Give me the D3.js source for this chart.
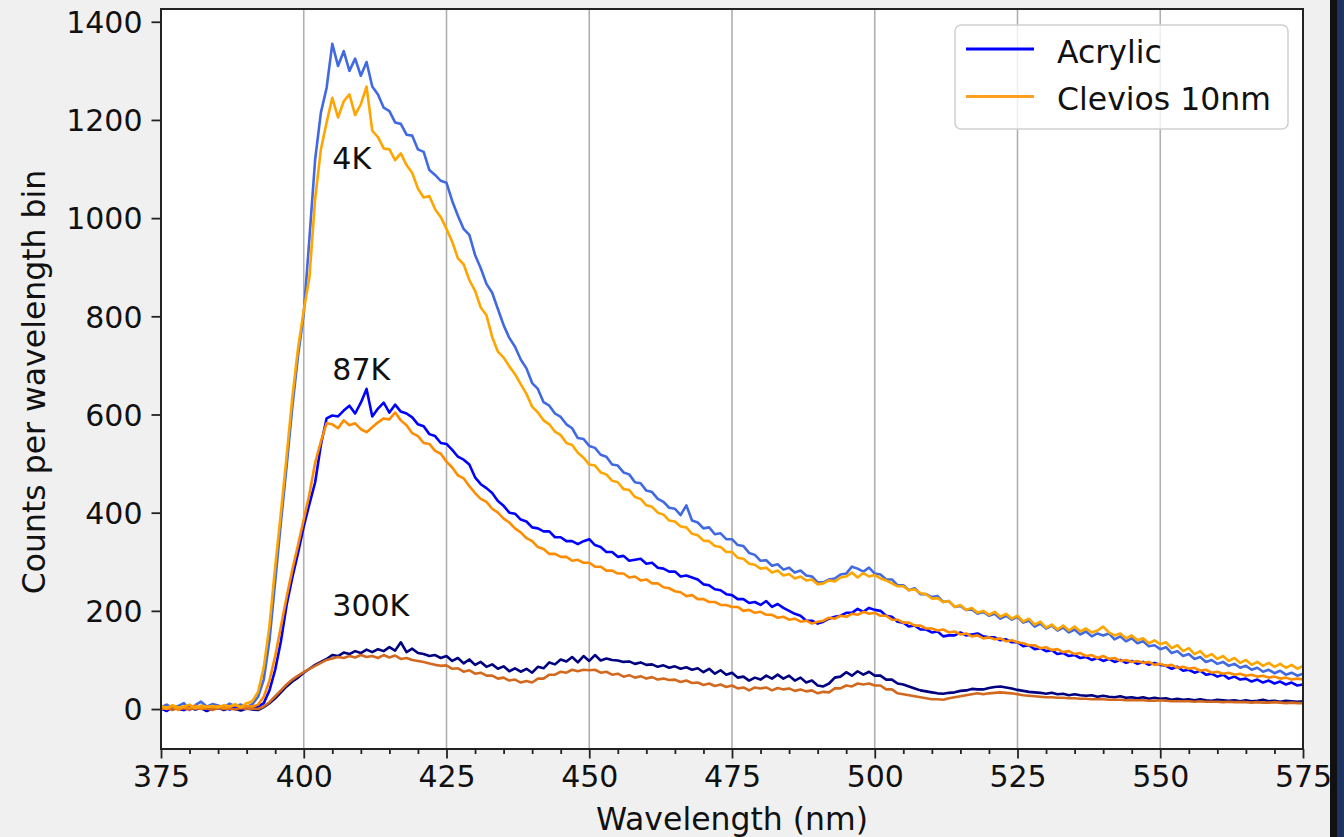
<!DOCTYPE html>
<html>
<head>
<meta charset="utf-8">
<script src="https://cdn.jsdelivr.net/npm/d3@7"></script>
<style>
  html, body { margin: 0; padding: 0; background: #f0f0f0; }
  svg { display: block; font-family: "DejaVu Sans", sans-serif; }
</style>
</head>
<body>
<svg id="chart" width="1344" height="837"></svg>
<script>
// Wavelength bins (nm), one count per bin
const wavelengths = d3.range(375, 576, 1);

// Acrylic spectra
const acrylic4K = [
  4, 9, 2, 6, 12, -2, 8, 15, 5, 10,
  7, 3, 11, 6, 9, 4, 10, 25, 60, 140,
  260, 380, 495, 615, 720, 805, 960, 1120, 1215, 1265,
  1355, 1310, 1340, 1300, 1325, 1290, 1318, 1268, 1252, 1225,
  1218, 1195, 1192, 1170, 1168, 1140, 1135, 1098, 1088, 1076,
  1072, 1035, 1005, 978, 966, 925, 898, 866, 848, 815,
  782, 756, 738, 712, 694, 664, 652, 625, 618, 602,
  595, 580, 572, 552, 550, 536, 532, 518, 514, 498,
  496, 482, 478, 462, 460, 445, 442, 428, 422, 410,
  408, 395, 415, 384, 380, 368, 370, 356, 358, 346,
  346, 334, 332, 318, 314, 302, 303, 292, 295, 284,
  288, 278, 282, 272, 270, 258, 258, 264, 266, 274,
  276, 290, 286, 280, 288, 276, 274, 264, 264, 252,
  252, 242, 246, 234, 234, 228, 230, 218, 220, 208,
  210, 202, 203, 194, 198, 190, 194, 184, 190, 182,
  188, 176, 180, 168, 174, 164, 170, 160, 166, 156,
  162, 152, 158, 148, 154, 150, 154, 142, 148, 138,
  144, 134, 138, 128, 130, 122, 126, 114, 118, 108,
  112, 102, 106, 96, 100, 92, 96, 88, 92, 84,
  88, 80, 84, 76, 80, 73, 78, 70, 74, 68,
  72
];
const acrylic87K = [
  2, -4, 5, 1, -2, 6, 0, 3, -3, 4,
  1, 5, -1, 3, 0, 4, 2, 5, 12, 38,
  80, 138, 212, 268, 318, 372, 418, 462, 538, 592,
  598, 596, 608, 618, 602, 624, 652, 596, 612, 624,
  604, 620, 606, 602, 594, 580, 576, 560, 556, 542,
  540, 528, 514, 508, 498, 472, 458, 450, 440, 424,
  414, 400, 398, 386, 382, 370, 368, 362, 362, 350,
  350, 342, 342, 336, 342, 346, 334, 330, 320, 320,
  310, 312, 302, 304, 306, 296, 298, 288, 286, 280,
  280, 270, 272, 268, 264, 254, 252, 244, 242, 234,
  232, 224, 224, 216, 218, 212, 220, 208, 214, 206,
  200, 194, 190, 180, 180, 174, 178, 184, 188, 190,
  196, 196, 204, 198, 206, 202, 200, 190, 188, 178,
  176, 168, 170, 162, 162, 156, 158, 148, 150, 150,
  156, 150, 152, 154, 148, 146, 146, 140, 142, 136,
  136, 128, 130, 122, 124, 118, 120, 112, 114, 108,
  110, 104, 106, 100, 104, 98, 102, 96, 100, 94,
  98, 92, 96, 90, 94, 90, 88, 82, 86, 78,
  80, 74, 78, 70, 72, 66, 70, 62, 66, 60,
  62, 56, 60, 54, 58, 52, 56, 50, 54, 48,
  50
];
const acrylic300K = [
  1, -3, 4, 0, -2, 3, -1, 2, -4, 1,
  3, -2, 2, 0, -3, 1, -1, -2, 4, 12,
  22, 34, 46, 56, 64, 74, 82, 90, 96, 102,
  110, 108, 115, 112, 118, 114, 121, 116, 122, 118,
  126, 119, 136, 116, 123, 114, 112, 108, 110, 104,
  108, 98, 104, 93, 101, 90, 96, 86, 91, 82,
  87, 77, 83, 76, 82, 74, 86, 83, 95, 91,
  101, 97, 106, 95, 108, 98, 110, 99, 103, 100,
  99, 96, 97, 92, 95, 90, 91, 86, 89, 84,
  87, 82, 85, 80, 83, 75, 82, 72, 79, 70,
  74, 64, 66, 58, 64, 60, 68, 62, 70, 62,
  68, 58, 64, 54, 58, 48, 46, 52, 64, 66,
  75, 68, 77, 70, 76, 68, 68, 60, 60, 52,
  50, 46, 42, 38, 36, 34, 32, 31, 33, 34,
  37, 38, 41, 40, 40, 43, 45, 46, 44, 42,
  39, 37, 35, 34, 33, 31, 33, 30, 31, 28,
  30, 28, 27, 28, 25, 27, 25, 24, 26, 23,
  24, 22, 24, 21, 23, 21, 22, 19, 21, 19,
  20, 18, 20, 18, 17, 19, 18, 17, 18, 16,
  18, 16, 17, 19, 16, 17, 15, 17, 16, 15,
  16
];

// Clevios 10nm spectra
const clevios4K = [
  6, 2, 8, 3, 5, 9, 1, 7, 4, 6,
  3, 8, 5, 10, 4, 12, 16, 35, 85, 170,
  290, 400, 515, 635, 735, 812, 880, 1040, 1140, 1195,
  1245, 1205, 1238, 1252, 1210, 1232, 1268, 1178, 1165, 1142,
  1140, 1118, 1132, 1108, 1092, 1060, 1042, 1045, 1018, 1002,
  978, 952, 918, 906, 874, 852, 818, 802, 758, 728,
  716, 698, 682, 662, 642, 616, 604, 588, 580, 565,
  558, 542, 538, 522, 512, 498, 496, 482, 478, 465,
  462, 448, 446, 432, 428, 415, 412, 400, 396, 384,
  382, 372, 370, 357, 354, 343, 342, 332, 330, 320,
  320, 308, 306, 296, 294, 286, 288, 278, 282, 272,
  275, 266, 270, 262, 264, 254, 256, 262, 260, 268,
  270, 278, 268, 277, 270, 273, 266, 262, 256, 250,
  250, 242, 244, 236, 234, 225, 226, 218, 220, 208,
  212, 202, 206, 196, 200, 192, 198, 188, 194, 184,
  190, 178, 184, 172, 178, 166, 172, 162, 170, 160,
  168, 158, 164, 156, 160, 168, 156, 150, 154, 144,
  150, 140, 144, 134, 140, 132, 136, 124, 130, 118,
  124, 112, 118, 106, 112, 102, 108, 98, 104, 94,
  100, 90, 96, 88, 94, 86, 92, 84, 90, 82,
  88
];
const clevios87K = [
  3, 0, 6, -2, 4, 2, 7, 1, 5, 3,
  6, 2, 4, 8, 3, 6, 5, 9, 25, 58,
  108, 168, 228, 284, 334, 386, 438, 502, 545, 582,
  580, 572, 588, 578, 582, 570, 564, 574, 584, 592,
  590, 604, 588, 578, 562, 556, 542, 540, 526, 520,
  504, 492, 476, 470, 454, 440, 428, 422, 408, 400,
  388, 380, 368, 360, 348, 342, 330, 326, 316, 316,
  310, 310, 302, 304, 298, 298, 290, 290, 282, 282,
  276, 276, 268, 270, 262, 264, 256, 256, 248, 246,
  240, 238, 230, 232, 224, 224, 218, 218, 212, 212,
  208, 208, 200, 202, 196, 198, 192, 192, 186, 188,
  182, 184, 178, 180, 174, 178, 180, 186, 184, 190,
  188, 194, 192, 198, 194, 196, 190, 190, 182, 182,
  176, 176, 170, 170, 164, 164, 160, 162, 156, 158,
  152, 154, 148, 150, 144, 146, 142, 144, 138, 140,
  136, 134, 130, 130, 124, 126, 120, 122, 116, 118,
  112, 114, 108, 110, 104, 108, 102, 104, 98, 100,
  96, 98, 94, 96, 90, 92, 88, 90, 84, 86,
  82, 84, 78, 80, 74, 76, 72, 74, 70, 72,
  68, 70, 66, 68, 64, 66, 62, 64, 60, 62,
  60
];
const clevios300K = [
  0, 2, -2, 3, 1, -1, 2, 0, 1, -2,
  2, 0, 1, -1, 2, 0, 1, 0, 5, 14,
  26, 38, 50, 60, 68, 75, 82, 88, 94, 100,
  103, 106, 104, 108, 105, 110, 106, 108, 104, 110,
  105, 109, 102, 104, 100, 98, 96, 93, 90, 88,
  89, 82, 83, 76, 79, 72, 74, 68, 68, 62,
  64, 58, 60, 54, 57, 54, 62, 62, 70, 70,
  76, 74, 80, 77, 80, 79, 80, 74, 76, 70,
  72, 66, 69, 64, 67, 62, 65, 60, 62, 59,
  60, 55, 58, 53, 54, 49, 52, 47, 50, 45,
  48, 42, 44, 38, 44, 42, 44, 38, 43, 40,
  42, 37, 40, 36, 38, 32, 35, 34, 42, 42,
  48, 46, 52, 50, 52, 48, 48, 40, 40, 32,
  30, 28, 26, 24, 22, 20, 20, 19, 22, 24,
  26, 28, 30, 32, 30, 32, 33, 34, 33, 32,
  30, 28, 27, 26, 25, 24, 24, 23, 23, 22,
  22, 21, 21, 20, 20, 20, 19, 19, 19, 18,
  18, 18, 18, 17, 17, 18, 17, 16, 16, 16,
  16, 15, 16, 15, 15, 15, 14, 15, 14, 14,
  14, 13, 14, 13, 13, 14, 13, 12, 13, 12,
  12
];

// Axis ticks and annotations
const xTicks = [375, 400, 425, 450, 475, 500, 525, 550, 575];
const xMinorTicks = d3.range(375, 576, 5);
const yTicks = [0, 200, 400, 600, 800, 1000, 1200, 1400];
const tempLabels = ["4K", "87K", "300K"];
const tempLabelX = [405, 405, 405];
const tempLabelY = [1100, 670, 190];
const legendNames = ["Acrylic", "Clevios 10nm"];

const series = [
  { values: acrylic300K, color: "#000080" },
  { values: acrylic87K, color: "#0000ff" },
  { values: acrylic4K, color: "#4169e1" },
  { values: clevios300K, color: "#d2691e" },
  { values: clevios87K, color: "#ff8c00" },
  { values: clevios4K, color: "#ffa500" }
];
const legendColors = ["#0000ff", "#ff9f1f"];

const svg = d3.select("#chart");
const W = 1344, H = 837;
const plot = { left: 161, right: 1303, top: 9, bottom: 749 };

svg.append("rect").attr("width", W).attr("height", H).attr("fill", "#f0f0f0");
// Dark screen edge on the right
svg.append("rect").attr("x", 1330).attr("y", 0).attr("width", 7).attr("height", H).attr("fill", "#111111");
svg.append("rect").attr("x", 1337).attr("y", 0).attr("width", 7).attr("height", H).attr("fill", "#1d3461");

const x = d3.scaleLinear().domain([375, 575]).range([plot.left, plot.right]);
const y = d3.scaleLinear().domain([-81.4, 1426]).range([plot.bottom, plot.top]);

svg.append("rect")
  .attr("x", plot.left).attr("y", plot.top)
  .attr("width", plot.right - plot.left).attr("height", plot.bottom - plot.top)
  .attr("fill", "#ffffff");

svg.append("clipPath").attr("id", "clip")
  .append("rect")
  .attr("x", plot.left).attr("y", plot.top)
  .attr("width", plot.right - plot.left).attr("height", plot.bottom - plot.top);

// Vertical grid at major wavelength ticks
svg.append("g")
  .selectAll("line").data(xTicks).join("line")
  .attr("x1", d => x(d)).attr("x2", d => x(d))
  .attr("y1", plot.top).attr("y2", plot.bottom)
  .attr("stroke", "#b0b0b0").attr("stroke-width", 1.6);

// Spectra
const line = d3.line()
  .x((d, i) => x(wavelengths[i]))
  .y(d => y(d));

svg.append("g").attr("clip-path", "url(#clip)")
  .selectAll("path").data(series).join("path")
  .attr("d", d => line(d.values))
  .attr("fill", "none")
  .attr("stroke", d => d.color)
  .attr("stroke-width", 2.6)
  .attr("stroke-linejoin", "round");

// Temperature annotations
svg.append("g")
  .selectAll("text").data(tempLabels).join("text")
  .attr("x", (d, i) => x(tempLabelX[i]))
  .attr("y", (d, i) => y(tempLabelY[i]))
  .attr("font-size", 30)
  .attr("fill", "#111")
  .text(d => d);

// Axes
const xAxis = d3.axisBottom(x).tickValues(xTicks).tickFormat(d3.format("d"))
  .tickSize(9.5).tickPadding(7);
const xAxisMinor = d3.axisBottom(x).tickValues(xMinorTicks.filter(v => !xTicks.includes(v)))
  .tickSize(5).tickFormat("");
const yAxis = d3.axisLeft(y).tickValues(yTicks).tickFormat(d3.format("d"))
  .tickSize(9.5).tickPadding(9);

const gx = svg.append("g").attr("transform", `translate(0,${plot.bottom})`).call(xAxis);
const gxm = svg.append("g").attr("transform", `translate(0,${plot.bottom})`).call(xAxisMinor);
const gy = svg.append("g").attr("transform", `translate(${plot.left},0)`).call(yAxis);

[gx, gxm, gy].forEach(g => {
  g.select(".domain").remove();
  g.selectAll(".tick line").attr("stroke", "#222").attr("stroke-width", 1.8);
  g.selectAll(".tick text").attr("font-size", 30).attr("fill", "#111")
    .attr("font-family", "DejaVu Sans, sans-serif");
});
gy.selectAll(".tick text").attr("dy", "0.36em");

// Frame
svg.append("rect")
  .attr("x", plot.left).attr("y", plot.top)
  .attr("width", plot.right - plot.left).attr("height", plot.bottom - plot.top)
  .attr("fill", "none").attr("stroke", "#222").attr("stroke-width", 2);

// Axis titles
svg.append("text")
  .attr("x", (plot.left + plot.right) / 2).attr("y", 830)
  .attr("text-anchor", "middle").attr("font-size", 31.5).attr("fill", "#111")
  .text("Wavelength (nm)");
svg.append("text")
  .attr("transform", `translate(45,${(plot.top + plot.bottom) / 2 + 3}) rotate(-90)`)
  .attr("text-anchor", "middle").attr("font-size", 31.5).attr("fill", "#111")
  .text("Counts per wavelength bin");

// Legend
const lg = svg.append("g");
lg.append("rect")
  .attr("x", 955).attr("y", 25).attr("width", 333).attr("height", 104).attr("rx", 6)
  .attr("fill", "#ffffff").attr("fill-opacity", 0.8)
  .attr("stroke", "#d0d0d0").attr("stroke-width", 1.5);
legendNames.forEach((name, i) => {
  const ly = 49 + i * 47.5;
  lg.append("line").attr("x1", 966).attr("x2", 1034).attr("y1", ly).attr("y2", ly)
    .attr("stroke", legendColors[i]).attr("stroke-width", 3);
  lg.append("text").attr("x", 1057).attr("y", ly + 13.5)
    .attr("font-size", 31.5).attr("fill", "#111").text(name);
});
</script>
</body>
</html>
